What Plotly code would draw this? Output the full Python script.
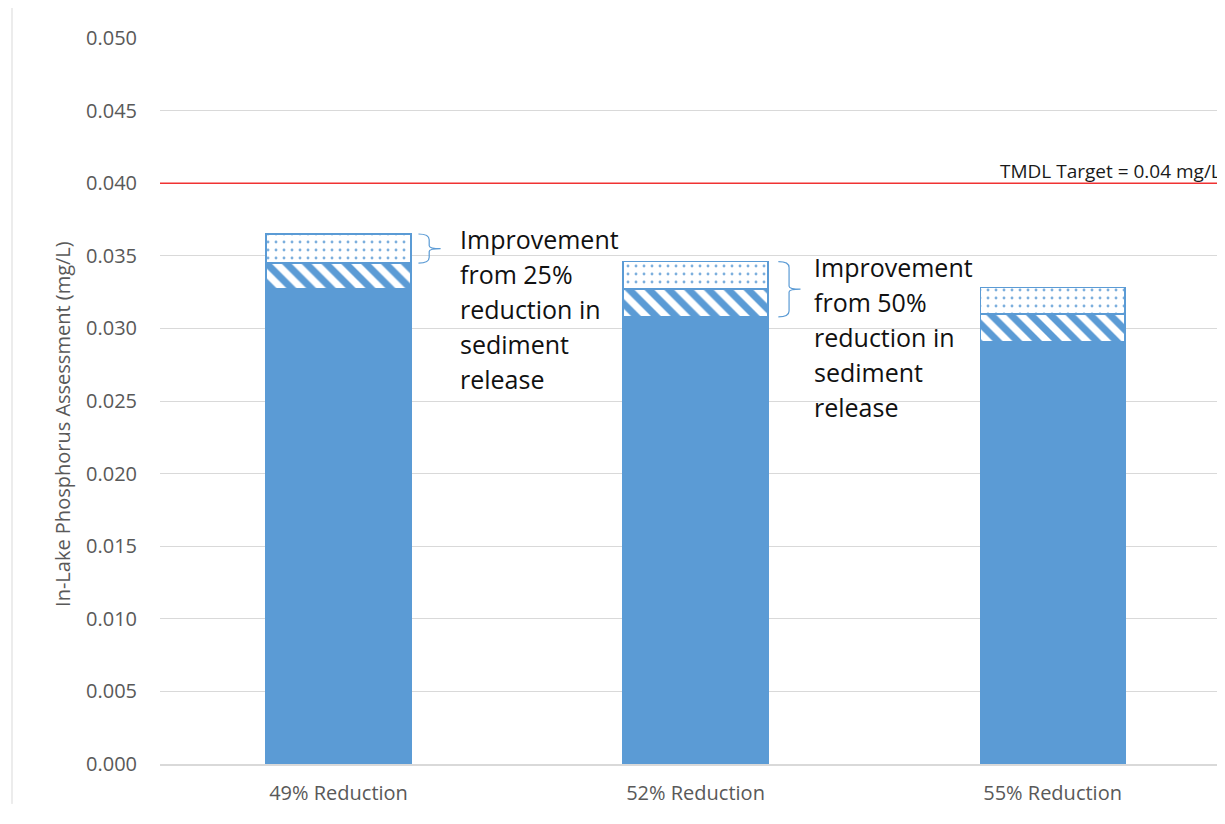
import plotly.graph_objects as go

categories = ["49% Reduction", "52% Reduction", "55% Reduction"]
base_vals = [0.0327, 0.0308, 0.0291]
hatch_vals = [0.0018, 0.0019, 0.0019]
dot_vals = [0.0020, 0.0019, 0.0018]
target = 0.04
y_ticks = [0.000, 0.005, 0.010, 0.015, 0.020, 0.025, 0.030, 0.035, 0.040, 0.045, 0.050]
y_tick_text = ["%.3f" % v for v in y_ticks]
note_lines = [
    ["Improvement", "from 25%", "reduction in", "sediment", "release"],
    ["Improvement", "from 50%", "reduction in", "sediment", "release"],
]

BLUE = "#5B9BD5"
GRAY = "#595959"
FONT = "Open Sans"
xs = list(range(len(categories)))
BW = 0.405

# page has an 8px body margin; plot area: x 152..1217, y 30..758 in figure px
PL, PT, PW, PH = 152, 30, 1065, 728
FW, FH = 1217, 798

fig = go.Figure()
fig.add_trace(go.Bar(x=xs, y=base_vals, width=BW, marker=dict(color=BLUE, line=dict(color=BLUE, width=1.5)), showlegend=False))
fig.add_trace(go.Bar(x=xs, y=hatch_vals, width=BW,
                     marker=dict(color=BLUE, line=dict(color=BLUE, width=1.5),
                                 pattern=dict(shape="\\", fgcolor=BLUE, bgcolor="white", fgopacity=1,
                                              size=14, solidity=0.5)),
                     showlegend=False))
fig.add_trace(go.Bar(x=xs, y=dot_vals, width=BW,
                     marker=dict(color=BLUE, line=dict(color=BLUE, width=1.5),
                                 pattern=dict(shape=".", fgcolor=BLUE, bgcolor="white", fgopacity=0.8,
                                              size=8, solidity=0.1)),
                     showlegend=False))

# target line
fig.add_shape(type="line", xref="paper", x0=0, x1=1, yref="y", y0=target, y1=target,
              line=dict(color="#F03232", width=1.5))
fig.add_annotation(xref="paper", x=1.0, xanchor="right", yref="y", y=target, yanchor="bottom",
                   text="TMDL Target = 0.04 mg/L", showarrow=False, yshift=-3, xshift=-2,
                   font=dict(family=FONT, size=19, color="#1a1a1a"))

# brackets: bar 0 spans dotted segment, bar 1 spans dotted + hatched segments
def brace(x0, top, bot, w=0.03, tip=0.062, d=0.0004):
    xm = x0 + w
    xt = x0 + tip
    ym = (top + bot) / 2
    return (f"M {x0},{top} Q {xm},{top} {xm},{top-d} L {xm},{ym+d/2} Q {xm},{ym} {xt},{ym} "
            f"M {xt},{ym} Q {xm},{ym} {xm},{ym-d/2} L {xm},{bot+d} Q {xm},{bot} {x0},{bot}")

tops = [b + h + d for b, h, d in zip(base_vals, hatch_vals, dot_vals)]
br = [(0, tops[0], base_vals[0] + hatch_vals[0], 0.224),
      (1, tops[1], base_vals[1], 0.232)]
for i, top, bot, off in br:
    fig.add_shape(type="path", xref="x", yref="y", path=brace(xs[i] + off, top, bot),
                  line=dict(color=BLUE, width=1.2))

# notes
note_pos = [(xs[0] + 0.336, tops[0]), (xs[1] + 0.325, tops[1])]
for (nx, ny), lines in zip(note_pos, note_lines):
    for k, t in enumerate(lines):
        fig.add_annotation(xref="x", x=nx, xanchor="left", yref="y", y=ny, yanchor="middle",
                           text=t, showarrow=False, yshift=-5 - 35 * k,
                           font=dict(family=FONT, size=25, color="#111111"))

# y title
fig.add_annotation(xref="paper", x=(55 - PL) / PW, xanchor="center", yref="paper", y=(PT + PH - 417) / PH,
                   yanchor="middle",
                   text="In-Lake Phosphorus Assessment (mg/L)", textangle=-90, showarrow=False,
                   font=dict(family=FONT, size=20, color=GRAY))

# left border line
fig.add_shape(type="line", xref="paper", x0=(4 - PL) / PW, x1=(4 - PL) / PW,
              yref="paper", y0=-(FH - PT - PH) / PH, y1=(PT + PH + 10) / PH, line=dict(color="#d9d9d9", width=1))

fig.update_layout(
    barmode="stack",
    width=FW, height=FH,
    margin=dict(l=PL, r=0, t=PT, b=FH - PT - PH),
    paper_bgcolor="white", plot_bgcolor="white",
    font=dict(family=FONT, color=GRAY),
    xaxis=dict(range=[-0.5, 2.483], tickvals=xs, ticktext=categories, showgrid=False,
               showline=True, linecolor="#d9d9d9", linewidth=1.5, zeroline=False,
               tickfont=dict(size=20, color=GRAY), ticks="", ticklabelstandoff=10),
    yaxis=dict(range=[0, 0.05], tickvals=y_ticks, ticktext=y_tick_text, showgrid=True,
               gridcolor="#d9d9d9", gridwidth=1, zeroline=False, showline=False,
               tickfont=dict(size=20, color=GRAY), ticks="", ticklabelstandoff=22),
)

fig.write_html("out.html")
